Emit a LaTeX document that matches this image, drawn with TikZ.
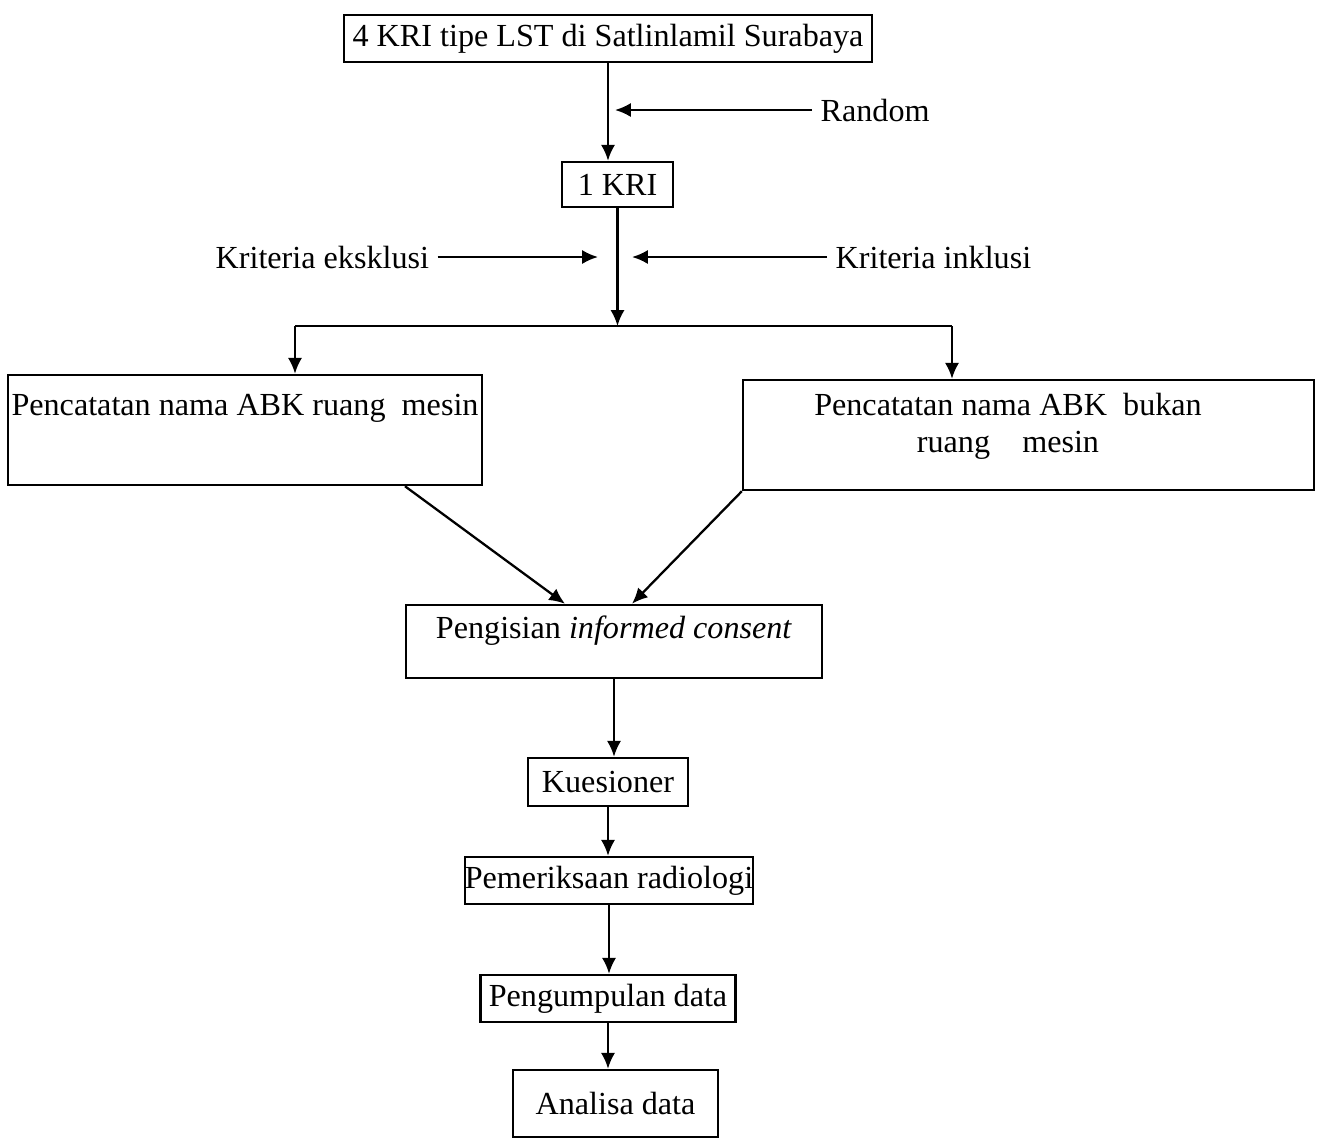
\documentclass[tikz,border=0pt]{standalone}
\usepackage{fontspec}
\setmainfont{Liberation Serif}
\usetikzlibrary{arrows.meta}

\begin{document}
\begin{tikzpicture}[x=0.02cm,y=-0.02cm,line width=1.3pt,
    box/.style={rectangle,draw,line width=1.4pt,inner sep=0pt,font=\fontsize{18.3}{21}\selectfont},
    lbl/.style={inner ysep=0pt,inner xsep=0.15cm,font=\fontsize{18.3}{21}\selectfont},
    arr/.style={-{Latex[length=9pt,width=8pt]}}]
    \useasboundingbox (0,0) rectangle (1321,1140);
    \node[box,minimum width=10.56cm,minimum height=0.94cm] (kri4) at (608,38.5) {4 KRI tipe LST di Satlinlamil Surabaya};
    \node[box,minimum width=2.22cm,minimum height=0.9cm] (kri1) at (617.5,184.5) {1 KRI};
    \node[lbl,anchor=west] (random) at (812,110) {Random};
    \node[lbl,anchor=west] (eks) at (207,257) {Kriteria eksklusi};
    \node[lbl,anchor=west] (ink) at (827,257) {Kriteria inklusi};
    \node[box,minimum width=9.48cm,text height=0.8cm,text depth=1.4cm] (lbox) at (245,430) {Pencatatan nama ABK ruang\ \ mesin};
    \node[box,minimum width=11.42cm,minimum height=2.2cm] (rbox) at (1028.5,435) {};
    \node[lbl,align=center] (rtext) at (1008,426.5) {Pencatatan nama ABK\ \ bukan\\ruang\quad mesin};
    \node[box,minimum width=8.32cm,text height=0.66cm,text depth=0.8cm] (cons) at (614,641.5) {Pengisian \textit{informed consent}};
    \node[box,minimum width=3.2cm,minimum height=0.96cm] (kues) at (608,782) {Kuesioner};
    \node[box,minimum width=5.76cm,minimum height=0.94cm] (pem) at (609,880.5) {Pemeriksaan radiologi};
    \node[box,minimum width=5.1cm,minimum height=0.94cm] (kumpul) at (608,998.5) {Pengumpulan data};
    \node[box,minimum width=4.1cm,minimum height=1.34cm] (analisa) at (615.5,1103.5) {Analisa data};

    \coordinate (rnd) at (615,110);
    \coordinate (eksend) at (598,257);
    \coordinate (inkend) at (632,257);
    \coordinate (sl) at (295,326);
    \coordinate (sr) at (952,326);

    \draw[arr] (kri4.south) -- (kri4.south |- kri1.north);
    \draw[arr] (random.west) -- (rnd);
    \draw[arr] (kri1.south) -- (kri1.south |- sl);
    \draw[arr] (eks.east) -- (eksend);
    \draw[arr] (ink.west) -- (inkend);
    \draw (sl) -- (sr);
    \draw[arr] (sl) -- (sl |- lbox.north);
    \draw[arr] (sr) -- (sr |- rbox.north);
    \draw[arr] ([xshift=3.2cm]lbox.south) -- ([xshift=-0.98cm]cons.north);
    \draw[arr] (rbox.south west) -- ([xshift=0.36cm]cons.north);
    \draw[arr] (cons.south) -- (cons.south |- kues.north);
    \draw[arr] (kues.south) -- (kues.south |- pem.north);
    \draw[arr] (pem.south) -- (pem.south |- kumpul.north);
    \draw[arr] (kumpul.south) -- (kumpul.south |- analisa.north);
\end{tikzpicture}
\end{document}
